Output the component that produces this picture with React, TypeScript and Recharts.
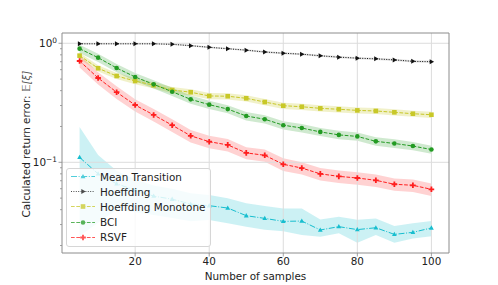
import React from 'react';
import { ComposedChart, Line, Area, XAxis, YAxis, ReferenceLine, Legend } from 'recharts';

const samples = [5, 10, 15, 20, 25, 30, 35, 40, 45, 50, 55, 60, 65, 70, 75, 80, 85, 90, 95, 100];

const meanTransition = [0.110, 0.080, 0.066, 0.0585, 0.052, 0.049, 0.0446, 0.0432, 0.0413, 0.0356, 0.0338, 0.0319, 0.0321, 0.0270, 0.0288, 0.0272, 0.0282, 0.0248, 0.0258, 0.0281];
const meanTransitionLo = [0.024, 0.031, 0.040, 0.038, 0.036, 0.034, 0.032, 0.0328, 0.0307, 0.0288, 0.0271, 0.0263, 0.0245, 0.0237, 0.0254, 0.0211, 0.0245, 0.0211, 0.0229, 0.0239];
const meanTransitionHi = [0.198, 0.115, 0.085, 0.072, 0.064, 0.060, 0.055, 0.0531, 0.050, 0.0452, 0.043, 0.041, 0.041, 0.033, 0.0348, 0.0329, 0.0338, 0.0292, 0.0307, 0.0322];

const hoeffding = [0.99, 0.99, 0.99, 0.99, 0.99, 0.98, 0.955, 0.925, 0.90, 0.875, 0.845, 0.825, 0.81, 0.785, 0.765, 0.75, 0.74, 0.725, 0.705, 0.70];
const hoeffdingLo = [0.975, 0.975, 0.975, 0.975, 0.975, 0.965, 0.94, 0.91, 0.885, 0.86, 0.83, 0.81, 0.795, 0.77, 0.75, 0.735, 0.725, 0.71, 0.69, 0.685];
const hoeffdingHi = [1.005, 1.005, 1.005, 1.005, 1.005, 0.995, 0.97, 0.94, 0.915, 0.89, 0.86, 0.84, 0.825, 0.8, 0.78, 0.765, 0.755, 0.74, 0.72, 0.715];

const hoeffdingMono = [0.787, 0.617, 0.531, 0.482, 0.444, 0.405, 0.388, 0.361, 0.359, 0.345, 0.321, 0.299, 0.293, 0.284, 0.279, 0.273, 0.270, 0.263, 0.256, 0.251];
const hoeffdingMonoLo = [0.74, 0.58, 0.5, 0.453, 0.417, 0.381, 0.365, 0.339, 0.337, 0.324, 0.302, 0.281, 0.275, 0.267, 0.262, 0.257, 0.254, 0.247, 0.241, 0.236];
const hoeffdingMonoHi = [0.834, 0.654, 0.563, 0.511, 0.471, 0.429, 0.411, 0.383, 0.381, 0.366, 0.34, 0.317, 0.311, 0.301, 0.296, 0.289, 0.286, 0.279, 0.271, 0.266];

const bci = [0.901, 0.757, 0.620, 0.521, 0.452, 0.392, 0.338, 0.305, 0.280, 0.245, 0.230, 0.205, 0.194, 0.180, 0.170, 0.165, 0.150, 0.144, 0.137, 0.128];
const bciLo = [0.83, 0.696, 0.57, 0.479, 0.416, 0.361, 0.311, 0.281, 0.258, 0.225, 0.212, 0.189, 0.178, 0.166, 0.156, 0.152, 0.138, 0.132, 0.126, 0.118];
const bciHi = [0.973, 0.818, 0.67, 0.563, 0.488, 0.423, 0.365, 0.329, 0.302, 0.265, 0.248, 0.221, 0.21, 0.194, 0.184, 0.178, 0.162, 0.156, 0.148, 0.138];

const rsvf = [0.710, 0.511, 0.388, 0.303, 0.250, 0.205, 0.167, 0.149, 0.140, 0.120, 0.1145, 0.0962, 0.0895, 0.080, 0.0762, 0.0738, 0.0706, 0.0654, 0.0641, 0.0593];
const rsvfLo = [0.625, 0.45, 0.341, 0.267, 0.22, 0.18, 0.147, 0.131, 0.123, 0.106, 0.101, 0.0847, 0.0788, 0.0704, 0.0671, 0.0649, 0.0621, 0.0576, 0.0564, 0.0522];
const rsvfHi = [0.795, 0.572, 0.435, 0.339, 0.28, 0.23, 0.187, 0.167, 0.157, 0.134, 0.128, 0.108, 0.1, 0.0896, 0.0853, 0.0827, 0.0791, 0.0732, 0.0718, 0.0664];

const xTicks = [20, 40, 60, 80, 100];
const yMajor = [0.1, 1];
const yMinor = [0.02, 0.03, 0.04, 0.05, 0.06, 0.07, 0.08, 0.09, 0.2, 0.3, 0.4, 0.5, 0.6, 0.7, 0.8, 0.9];

const FONT = '"DejaVu Sans", sans-serif';
const FS = 10.4;
const SPINE = '#8c8c8c';
const GRID = '#dcdcdc';

type Shape = 'triUp' | 'triRight' | 'square' | 'circle' | 'plus';

const series = [
  { key: 'mt', name: 'Mean Transition', color: '#17becf', dash: '6 1.6 1 1.6', shape: 'triUp' as Shape, mean: meanTransition, lo: meanTransitionLo, hi: meanTransitionHi, band: 0.22 },
  { key: 'hf', name: 'Hoeffding', color: '#111111', dash: '1 1.4', shape: 'triRight' as Shape, mean: hoeffding, lo: hoeffdingLo, hi: hoeffdingHi, band: 0.12 },
  { key: 'hm', name: 'Hoeffding Monotone', color: '#c8c828', dash: '3.7 1.6', shape: 'square' as Shape, mean: hoeffdingMono, lo: hoeffdingMonoLo, hi: hoeffdingMonoHi, band: 0.25 },
  { key: 'bci', name: 'BCI', color: '#239b23', dash: '3.7 1.6', shape: 'circle' as Shape, mean: bci, lo: bciLo, hi: bciHi, band: 0.22 },
  { key: 'rsvf', name: 'RSVF', color: '#ff1e1e', dash: '3.7 1.6', shape: 'plus' as Shape, mean: rsvf, lo: rsvfLo, hi: rsvfHi, band: 0.2 },
];

const data = samples.map((x, i) => {
  const row: Record<string, number> = { x };
  series.forEach((s) => {
    row[s.key] = s.mean[i];
    row[s.key + 'Lo'] = s.lo[i];
    row[s.key + 'Hi'] = s.hi[i];
  });
  return row;
});

function Marker({ shape, cx, cy, color }: { shape: Shape; cx: number; cy: number; color: string }) {
  switch (shape) {
    case 'triUp':
      return <polygon points={`${cx},${cy - 2.6} ${cx - 2.4},${cy + 1.7} ${cx + 2.4},${cy + 1.7}`} fill={color} />;
    case 'triRight':
      return <polygon points={`${cx + 2.7},${cy} ${cx - 1.7},${cy - 2.5} ${cx - 1.7},${cy + 2.5}`} fill={color} />;
    case 'square':
      return <rect x={cx - 2.3} y={cy - 2.3} width={4.6} height={4.6} fill={color} />;
    case 'circle':
      return <circle cx={cx} cy={cy} r={2.3} fill={color} />;
    default:
      return (
        <path
          d={`M${cx - 0.9},${cy - 2.8}h1.8v1.9h1.9v1.8h-1.9v1.9h-1.8v-1.9h-1.9v-1.8h1.9z`}
          fill={color}
        />
      );
  }
}

const makeDot = (shape: Shape, color: string) => (props: any) => {
  const { cx, cy, index } = props;
  if (cx == null || cy == null) return <g key={index} />;
  return (
    <g key={index}>
      <Marker shape={shape} cx={cx} cy={cy} color={color} />
    </g>
  );
};

// y tick: majors get label 10^n, minors get a short tick
const YTick = (props: any) => {
  const { y, payload } = props;
  const v = payload.value;
  const major = yMajor.includes(v);
  const x0 = 62;
  return (
    <g>
      <line x1={x0 - (major ? 3.5 : 2)} x2={x0} y1={y} y2={y} stroke={SPINE} strokeWidth={0.8} />
      {major && (
        <text x={x0 - 5} y={y + 3.8} textAnchor="end" fontFamily={FONT} fontSize={FS} fill="#222">
          10
          <tspan dy={-4.5} fontSize={7.4}>{v === 1 ? '0' : '\u22121'}</tspan>
        </text>
      )}
    </g>
  );
};

const LegendBox = () => (
  <div
    style={{
      border: '1px solid #d6d6d6',
      borderRadius: 3,
      background: 'rgba(255,255,255,0.8)',
      padding: '0 5px 1px 3px',
      fontFamily: FONT,
      fontSize: FS,
      color: '#222',
    }}
  >
    {series.map((s) => (
      <div key={s.key} style={{ display: 'flex', alignItems: 'center', height: 15.2 }}>
        <svg width={26} height={15} style={{ display: 'block', opacity: 0.75 }}>
          <line x1={1} x2={25} y1={7.5} y2={7.5} stroke={s.color} strokeWidth={1} strokeDasharray={s.dash} />
          <Marker shape={s.shape} cx={13} cy={7.5} color={s.color} />
        </svg>
        <span style={{ marginLeft: 4, whiteSpace: 'nowrap' }}>{s.name}</span>
      </div>
    ))}
  </div>
);

export default function App() {
  return (
    <div style={{ position: 'absolute', left: 0, top: 0, width: 498, height: 285, background: '#fff' }}>
      <ComposedChart width={498} height={285} data={data} margin={{ top: 33, right: 49, bottom: 0, left: 2 }}>
        <XAxis
          dataKey="x"
          type="number"
          domain={[0.25, 104.75]}
          allowDataOverflow
          ticks={xTicks}
          height={32}
          tickSize={3.5}
          tickLine={{ stroke: SPINE, strokeWidth: 0.8 }}
          axisLine={{ stroke: SPINE, strokeWidth: 1 }}
          tick={{ fontFamily: FONT, fontSize: FS, fill: '#222' }}
          tickMargin={1}
          label={{ value: 'Number of samples', position: 'insideBottom', offset: 5, style: { fontFamily: FONT, fontSize: FS, fill: '#222' } }}
        />
        <YAxis
          scale="log"
          type="number"
          domain={[0.0173, 1.22]}
          allowDataOverflow
          ticks={[...yMinor, ...yMajor]}
          interval={0}
          width={60}
          tickLine={false}
          axisLine={{ stroke: SPINE, strokeWidth: 1 }}
          tick={<YTick />}
        />
        {xTicks.map((t) => (
          <ReferenceLine key={'gx' + t} x={t} stroke={GRID} strokeWidth={1} />
        ))}
        {yMajor.map((t) => (
          <ReferenceLine key={'gy' + t} y={t} stroke={GRID} strokeWidth={1} />
        ))}
        <ReferenceLine y={1.22} stroke={SPINE} strokeWidth={1} />
        <ReferenceLine x={104.75} stroke={SPINE} strokeWidth={1} />
        {series.map((s) => (
          <Area
            key={s.key + 'band'}
            type="linear"
            dataKey={(d: any) => [d[s.key + 'Lo'], d[s.key + 'Hi']]}
            stroke="none"
            fill={s.color}
            fillOpacity={s.band}
            isAnimationActive={false}
            activeDot={false}
            legendType="none"
          />
        ))}
        {series.map((s) => (
          <Line
            key={s.key}
            type="linear"
            dataKey={s.key}
            name={s.name}
            stroke={s.color}
            strokeWidth={1}
            strokeDasharray={s.dash}
            dot={makeDot(s.shape, s.color)}
            activeDot={false}
            isAnimationActive={false}
          />
        ))}
        <Legend
          layout="vertical"
          align="center"
          verticalAlign="middle"
          content={<LegendBox />}
          wrapperStyle={{ left: 66, top: 168, width: 'auto' }}
        />
      </ComposedChart>
      <div
        style={{
          position: 'absolute',
          left: 26,
          top: 144,
          transform: 'translate(-50%, -50%) rotate(-90deg)',
          whiteSpace: 'nowrap',
          fontFamily: FONT,
          fontSize: FS,
          color: '#222',
        }}
      >
        Calculated return error: <span style={{ fontStyle: 'italic', color: '#555' }}>𝔼[ξ]</span>
      </div>
    </div>
  );
}
